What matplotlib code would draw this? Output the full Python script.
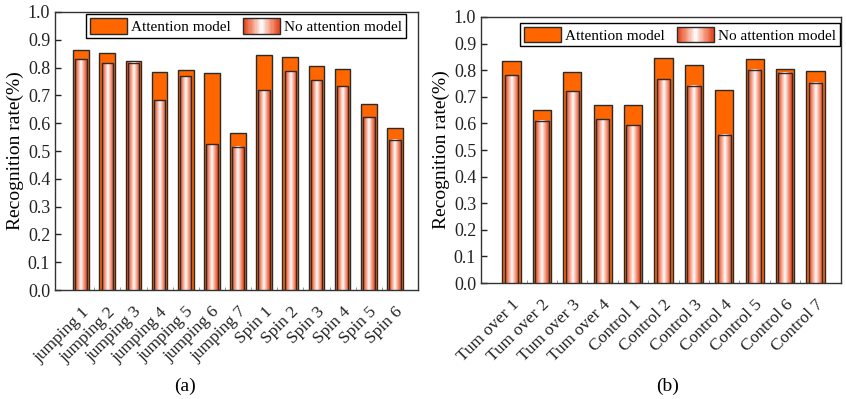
import numpy as np
import matplotlib
matplotlib.use("Agg")
import matplotlib.pyplot as plt
from matplotlib.patches import Rectangle
from matplotlib.legend_handler import HandlerBase
from matplotlib.colors import LinearSegmentedColormap
from matplotlib.transforms import ScaledTranslation

plt.rcParams['font.family'] = ['Liberation Serif', 'DejaVu Serif']

cats_a = ["jumping 1", "jumping 2", "jumping 3", "jumping 4", "jumping 5", "jumping 6",
          "jumping 7", "Spin 1", "Spin 2", "Spin 3", "Spin 4", "Spin 5", "Spin 6"]
att_a = [0.862, 0.853, 0.823, 0.785, 0.793, 0.780, 0.565, 0.845, 0.838, 0.804, 0.794, 0.669, 0.582]
noatt_a = [0.830, 0.815, 0.818, 0.683, 0.769, 0.524, 0.515, 0.719, 0.786, 0.754, 0.733, 0.621, 0.541]

cats_b = ["Tum over 1", "Tum over 2", "Tum over 3", "Tum over 4", "Control 1", "Control 2",
          "Control 3", "Control 4", "Control 5", "Control 6", "Control 7"]
att_b = [0.835, 0.651, 0.792, 0.670, 0.668, 0.846, 0.820, 0.725, 0.842, 0.803, 0.797]
noatt_b = [0.781, 0.610, 0.720, 0.615, 0.593, 0.766, 0.741, 0.558, 0.801, 0.791, 0.752]

ORANGE = '#FF6600'
EDGE = '#2b2b2b'
grad_cmap = LinearSegmentedColormap.from_list(
    'g', ['#E4461E', '#F59A80', '#FFFFFF', '#F59A80', '#E4461E'])
grad_img = np.linspace(0, 1, 64).reshape(1, -1)


class GradHandler(HandlerBase):
    def create_artists(self, legend, orig_handle, xdescent, ydescent, width, height, fontsize, trans):
        arts = []
        n = 30
        cols = grad_cmap(np.linspace(0, 1, n))
        for i in range(n):
            r = Rectangle((-xdescent + width * i / n, -ydescent), width / n + 0.3, height,
                          facecolor=cols[i], edgecolor='none', transform=trans)
            arts.append(r)
        arts.append(Rectangle((-xdescent, -ydescent), width, height, facecolor='none',
                              edgecolor=EDGE, lw=1.0, transform=trans))
        return arts


def draw(ax, cats, att, noatt, xr):
    x = np.arange(len(cats))
    w1, w2 = 0.6, 0.44
    ax.bar(x, att, width=w1, color=ORANGE, edgecolor=EDGE, linewidth=1.0, zorder=2)
    for xi, v in zip(x, noatt):
        ax.imshow(grad_img, cmap=grad_cmap, extent=(xi - w2 / 2, xi + w2 / 2, 0, v),
                  aspect='auto', zorder=3, interpolation='bilinear')
        ax.add_patch(Rectangle((xi - w2 / 2, 0), w2, v, facecolor='none',
                               edgecolor=EDGE, lw=1.0, zorder=4))
    ax.set_xlim(*xr)
    ax.set_ylim(0, 1.0)
    ax.set_yticks(np.arange(0, 1.01, 0.1))
    ax.set_yticklabels([f"{v:.1f}" for v in np.arange(0, 1.01, 0.1)], fontsize=13)
    ax.set_xticks(x)
    ax.set_xticklabels(cats, rotation=45, ha='right', va='top', rotation_mode='anchor', fontsize=12.5)
    off = ScaledTranslation(9 / 72, 0, fig.dpi_scale_trans)
    for lab in ax.get_xticklabels():
        lab.set_transform(lab.get_transform() + off)
    ax.set_xticks(x[:-1] + 0.5, minor=True)
    ax.tick_params(axis='both', direction='in', length=4, width=1, colors='#222222')
    ax.tick_params(axis='x', which='minor', direction='in', length=2, color='#888888')
    ax.tick_params(axis='x', which='major', pad=10)
    ax.set_ylabel('Recognition rate(%)', fontsize=14, labelpad=3)
    for s in ax.spines.values():
        s.set_color('#333333')
        s.set_linewidth(1.0)


fig = plt.figure(figsize=(8.46, 3.99), dpi=100)
ax1 = fig.add_axes([0.065, 0.273, 0.429, 0.697])
ax2 = fig.add_axes([0.5686, 0.2907, 0.4255, 0.6667])

draw(ax1, cats_a, att_a, noatt_a, (-1.0, 12.88))
draw(ax2, cats_b, att_b, noatt_b, (-1.0, 10.84))

h1 = Rectangle((0, 0), 1, 1, facecolor=ORANGE, edgecolor=EDGE, lw=1.0)
h2 = Rectangle((0, 0), 1, 1)
for ax, anchor in [(ax1, (0.968, 0.992)), (ax2, (0.998, 0.978))]:
    leg = ax.legend([h1, h2], ['Attention model', 'No attention model'],
                    handler_map={h2: GradHandler()}, loc='upper right',
                    bbox_to_anchor=anchor, ncol=2, fontsize=11, frameon=True,
                    fancybox=False, edgecolor='black', framealpha=1,
                    handlelength=2.4, handleheight=1.2, handletextpad=0.3,
                    columnspacing=0.8, borderpad=0.25, borderaxespad=0)
    leg.get_frame().set_linewidth(1.0)
    leg.set_zorder(10)

fig.text(185 / 846, 1 - 386 / 399, '(a)', ha='center', va='center', fontsize=14)
fig.text(668 / 846, 1 - 386 / 399, '(b)', ha='center', va='center', fontsize=14)

fig.savefig('out.png', dpi=100)
